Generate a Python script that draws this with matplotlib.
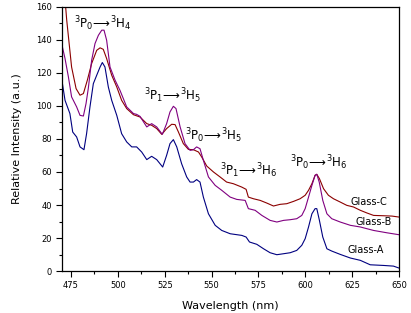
import numpy as np
import matplotlib
matplotlib.use("Agg")
import matplotlib.pyplot as plt
from matplotlib.ticker import MultipleLocator

# Glass-C (dark red)
wl_c = [470, 472.7, 475.3, 477.7, 479.8, 481.6, 483.7, 486, 488.7, 490.5, 492.2, 494,
        496.7, 499.4, 502, 504.7, 508.3, 511.8, 515.4, 518, 520.7, 523.4, 526, 528.7,
        530.5, 532.3, 534.9, 537.6, 540.3, 543, 544.7, 547.4, 551, 554.5, 558, 561.6,
        566, 568.4, 569.6, 572.3, 575.9, 579.4, 583, 586.5, 590.1, 593.7, 597.2, 599.9,
        601.7, 603.5, 605.2, 606.1, 607.5, 609.7, 612.3, 615, 618.6, 622.1, 625.7,
        629.3, 632.8, 636.4, 641.7, 646.2, 650]
int_c = [190, 152, 123.6, 110.5, 106.5, 107.5, 115.6, 125.7, 133.7, 135.2, 134.3, 128.7,
         118.6, 111.5, 103.4, 98.4, 94.7, 93.3, 89.3, 88.3, 86.3, 82.8, 86.3, 88.9,
         88.7, 84.2, 77.2, 73.7, 73.5, 72.1, 69.1, 63.6, 60, 57, 53.9, 52.9,
         50.9, 49.5, 44.8, 43.8, 42.8, 41.2, 39.4, 40.4, 40.8, 42.2, 43.8, 45.9,
         48.9, 52.9, 58, 58.6, 56, 49.9, 45.9, 43.8, 41.8, 39.8, 38.8,
         36.8, 35.2, 33.7, 33.5, 33.3, 32.7]

# Glass-B (purple)
wl_b = [470, 471.8, 473.6, 475.3, 478, 479.8, 481.6, 483, 484.2, 486, 487.8, 489.6,
        491.4, 492.6, 494, 495.8, 498.5, 501.1, 504.7, 508.3, 510, 511.8, 515.4, 518,
        520.7, 523.7, 526, 527.8, 529.6, 531, 533.2, 535.8, 538.5, 540.3, 542, 543.8,
        545.6, 548.3, 551.9, 555.4, 559.9, 563.4, 567.9, 569.6, 573.2, 576.8, 581.2,
        584.8, 588.4, 591.9, 595.4, 598.1, 599.9, 601.7, 603.5, 605.2, 606.1, 607.4,
        609.3, 611.5, 614.1, 618.6, 624, 629.3, 636.4, 643.4, 650]
int_b = [137.8, 128.7, 117.6, 105.5, 99.4, 94.3, 93.9, 101.4, 110.5, 127.7, 137.8, 142.8,
         145.9, 145.9, 139.8, 123.6, 115.6, 109.5, 99.4, 95.4, 94.9, 93.7, 87.3, 89.3,
         87.3, 82.8, 89.3, 96.4, 99.8, 98.4, 87.3, 77.2, 73.1, 73.5, 75.2, 74.1,
         67.1, 57, 51.9, 48.9, 44.8, 43.4, 42.8, 37.8, 36.8, 33.7, 30.7,
         29.7, 30.7, 31.1, 31.7, 33.7, 37.8, 44.8, 51.9, 58, 58.6, 53.9,
         42.8, 34.7, 31.7, 29.7, 27.7, 26.7, 24.6, 23.2, 22]

# Glass-A (navy)
wl_a = [470, 471.8, 474.4, 475.9, 478, 479.8, 481.9, 483.3, 485.1, 486.9, 488.7, 490.5,
        491.7, 493.1, 494.9, 496.7, 499.4, 502, 504.7, 507.4, 510, 512.7, 515.4, 518,
        520.7, 523.9, 526, 527.8, 529.6, 531.4, 534, 536.7, 538.5, 540.3, 542, 543.8,
        545.6, 548.3, 551.9, 555.4, 559.9, 566.1, 568.4, 570.2, 574.1, 577.7, 581.2,
        584.8, 588.4, 591.9, 595.4, 598.1, 599.9, 601.7, 603.5, 605.2, 606.1, 607.5,
        609.3, 611.5, 614.1, 618.6, 624, 629.3, 634.6, 641.7, 647, 650]
int_a = [116.6, 103.4, 95.4, 84.2, 81.2, 75.2, 73.5, 83.2, 99.4, 113.5, 118.6, 123.6,
         126.3, 123.6, 111.5, 103.4, 94.3, 83.2, 78.2, 75.2, 75.2, 72.1, 67.5, 69.5,
         67.5, 63, 70.1, 77.2, 79.6, 75.2, 65, 57, 53.9, 53.9, 55.4, 53.9,
         44.8, 34.7, 27.7, 24.6, 22.6, 21.6, 20.6, 17.6, 16.2, 13.5, 11.1,
         9.9, 10.5, 11.1, 12.5, 15.6, 19.6, 26.7, 34.7, 37.8, 37.8, 30.7,
         20.6, 13.5, 12.1, 10.1, 7.9, 6.5, 3.8, 3.4, 3, 1.8]

transitions = [r"$^3\mathrm{P}_0\!\longrightarrow\!{}^3\mathrm{H}_4$",
               r"$^3\mathrm{P}_1\!\longrightarrow\!{}^3\mathrm{H}_5$",
               r"$^3\mathrm{P}_0\!\longrightarrow\!{}^3\mathrm{H}_5$",
               r"$^3\mathrm{P}_1\!\longrightarrow\!{}^3\mathrm{H}_6$",
               r"$^3\mathrm{P}_0\!\longrightarrow\!{}^3\mathrm{H}_6$"]
trans_x = [492, 529, 551, 570, 607]
trans_y = [150, 106, 82, 61, 65.5]

glass_names = ["Glass-C", "Glass-B", "Glass-A"]
glass_x = [634, 636.5, 632]
glass_y = [41.8, 29.7, 12.9]

fig = plt.figure(figsize=(4.11, 3.13), dpi=100)
ax = fig.add_axes([0.150, 0.134, 0.821, 0.844])

ax.plot(wl_c, int_c, color="#8b0000", lw=0.8)
ax.plot(wl_b, int_b, color="#800080", lw=0.8)
ax.plot(wl_a, int_a, color="#000080", lw=0.8)

for s, x, y in zip(transitions, trans_x, trans_y):
    ax.text(x, y, s, ha="center", va="center", fontsize=8.5)
for s, x, y in zip(glass_names, glass_x, glass_y):
    ax.text(x, y, s, ha="center", va="center", fontsize=7)

ax.set_xlim(470, 650)
ax.set_ylim(0, 160)
ax.xaxis.set_major_locator(MultipleLocator(25))
ax.xaxis.set_minor_locator(MultipleLocator(12.5))
ax.yaxis.set_major_locator(MultipleLocator(20))
ax.yaxis.set_minor_locator(MultipleLocator(10))
ax.tick_params(which="both", direction="out", labelsize=6, width=0.8, pad=3)
ax.tick_params(which="major", length=4)
ax.tick_params(which="minor", length=2.5)
for sp in ax.spines.values():
    sp.set_linewidth(0.9)

ax.set_xlabel("Wavelength (nm)", fontsize=8, labelpad=8)
ax.set_ylabel("Relative Intensity (a.u.)", fontsize=8, labelpad=10)

fig.savefig("out.png", dpi=100)
